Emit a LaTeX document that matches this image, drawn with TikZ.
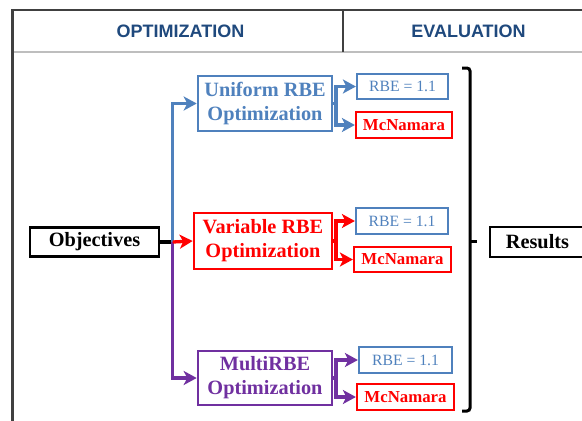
\documentclass[tikz,border=0pt]{standalone}
\usepackage{fontspec}
\setmainfont{Liberation Serif}
\newfontfamily\hdrfont{Liberation Sans}
\usetikzlibrary{arrows.meta}
\definecolor{cblue}{RGB}{79,129,189}
\definecolor{cred}{RGB}{255,0,0}
\definecolor{cpurple}{RGB}{112,48,160}
\definecolor{chdr}{RGB}{31,73,125}
\definecolor{cframe}{RGB}{64,64,64}
\definecolor{cgray}{RGB}{190,190,190}
\tikzset{
  bigbox/.style={draw, line width=2.6pt, fill=white, align=center, inner sep=0pt,
    font=\fontsize{20.3}{24}\selectfont\bfseries},
  rbebox/.style={draw=cblue, line width=2.2pt, text=cblue, inner sep=0pt,
    minimum height=25pt, font=\fontsize{15.7}{18}\selectfont},
  mcbox/.style={draw=cred, line width=2.2pt, text=cred, inner sep=0pt,
    minimum height=26pt, font=\fontsize{16.8}{18}\selectfont\bfseries},
  conn/.style={line width=3.3pt},
  arr/.style={line width=3.3pt, -{Stealth[length=13pt,width=14pt,inset=3.5pt]}},
  hdr/.style={text=chdr, font=\hdrfont\fontsize{18}{20}\selectfont\bfseries},
}
\begin{document}
\begin{tikzpicture}[x=1pt,y=-1pt]
\clip (0,0) rectangle (582,421);
\fill[white] (0,0) rectangle (582,421);
% frame
\draw[cgray, line width=1.2pt] (13,52) -- (582,52);
\draw[cframe, line width=1.2pt] (343,10) -- (343,52);
\draw[cframe, line width=2.2pt] (12.5,421) -- (12.5,10) -- (582,10);
\node[hdr] (h1) at (180.5,31) {OPTIMIZATION};
\node[hdr] (h2) at (468.5,31) {EVALUATION};
% nodes
\node[bigbox, draw=black, minimum width=129pt, minimum height=29pt] (obj) at (94.5,242) {Objectives};
\node[bigbox, draw=cblue, text=cblue, minimum width=134pt, minimum height=55pt] (uni) at (265,103.5) {Uniform RBE\\Optimization};
\node[bigbox, draw=cred, text=cred, minimum width=138pt, minimum height=56pt] (var) at (263,241) {Variable RBE\\Optimization};
\node[bigbox, draw=cpurple, text=cpurple, minimum width=134pt, minimum height=54pt] (mul) at (265,378) {MultiRBE\\Optimization};
\node[rbebox, minimum width=91pt] (r1) at (402.5,86.5) {RBE = 1.1};
\node[mcbox, minimum width=96pt] (m1) at (404,125) {McNamara};
\node[rbebox, minimum width=92pt, minimum height=26pt] (r2) at (402,221) {RBE = 1.1};
\node[mcbox, minimum width=97pt, minimum height=25pt] (m2) at (402.5,259.5) {McNamara};
\node[rbebox, minimum width=93pt, minimum height=26pt] (r3) at (405.5,360) {RBE = 1.1};
\node[mcbox, minimum width=97pt] (m3) at (405.5,397) {McNamara};
\node[bigbox, draw=black, minimum width=95pt, minimum height=30pt] (res) at (537.5,242) {Results};
% junctions
\coordinate (j) at (172.7,242);
\coordinate (f1) at (336,103.5);
\coordinate (f2) at (336,241);
\coordinate (f3) at (336,378);
% left connectors
\draw[conn, black] (obj.east) -- (j);
\draw[arr, cblue] (j) |- (uni.west);
\draw[arr, cpurple] (j) |- (mul.west);
\draw[arr, cred] (j) -- (var.west);
% forks
\draw[conn, cblue] (uni.east) -- (f1);
\draw[arr, cblue] (f1) |- (r1.west);
\draw[arr, cblue] (f1) |- (m1.west);
\draw[conn, cred] (var.east) -- (f2);
\draw[arr, cred] (f2) |- (r2.west);
\draw[arr, cred] (f2) |- (m2.west);
\draw[conn, cpurple] (mul.east) -- (f3);
\draw[arr, cpurple] (f3) |- (r3.west);
\draw[arr, cpurple] (f3) |- (m3.west);
% bracket
\draw[line width=3pt, rounded corners=3pt] (462,68) -- (470,68) -- (470,411) -- (462,411);
\draw[line width=3pt] (470,241) -- (477,241);
\end{tikzpicture}
\end{document}
